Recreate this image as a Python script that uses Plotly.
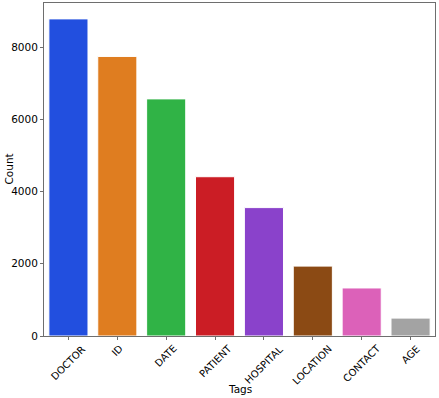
import plotly.graph_objects as go

# Tag counts
tags = ['DOCTOR', 'ID', 'DATE', 'PATIENT', 'HOSPITAL', 'LOCATION', 'CONTACT', 'AGE']
counts = [8780, 7740, 6565, 4410, 3555, 1935, 1330, 495]
bar_colors = ['#224fdf', '#df7d20', '#30b346', '#cb1d25',
              '#8a42cb', '#8b4a14', '#dc61b9', '#a3a3a3']

AXIS_COLOR = '#6e6e6e'
FONT = 'DejaVu Sans'
FS = 10.5

fig = go.Figure()
fig.add_trace(go.Bar(
    x=tags,
    y=counts,
    width=0.8,
    marker_color=bar_colors,
    marker_line=dict(color='white', width=1),
    showlegend=False,
))

# rotated tick labels centred on their ticks (matplotlib style)
tick_labels = [
    dict(text=t, x=t, xref='x', yref='paper', y=0, yshift=-4,
         xanchor='center', yanchor='top', textangle=-45,
         showarrow=False, font=dict(size=10))
    for t in tags
]

fig.update_layout(
    width=439, height=398,
    margin=dict(l=44, r=4, t=3, b=62),
    plot_bgcolor='white',
    paper_bgcolor='white',
    font=dict(family=FONT, size=FS, color='black'),
    xaxis=dict(
        range=[-0.5, 7.5],
        showticklabels=False,
        automargin=False,
        showline=True, linecolor=AXIS_COLOR, linewidth=1, mirror=True,
        ticks='outside', ticklen=3, tickcolor=AXIS_COLOR,
        showgrid=False,
    ),
    yaxis=dict(
        range=[0, 9220],
        tickvals=[0, 2000, 4000, 6000, 8000],
        automargin=False,
        showline=True, linecolor=AXIS_COLOR, linewidth=1, mirror=True,
        ticks='outside', ticklen=3, tickcolor=AXIS_COLOR,
        showgrid=False, zeroline=False,
    ),
    annotations=tick_labels + [
        dict(text='Tags', xref='paper', yref='paper', x=0.5, y=0,
             yshift=-53, yanchor='middle', showarrow=False,
             font=dict(size=FS)),
        dict(text='Count', xref='paper', yref='paper', x=0, y=0.5,
             xshift=-36, xanchor='center', textangle=-90, showarrow=False,
             font=dict(size=FS)),
    ],
)

# drop the default body margin so the figure sits at the page corner
fig.write_html('out.html', config={'displayModeBar': False},
               post_script="document.body.style.margin='0';")
